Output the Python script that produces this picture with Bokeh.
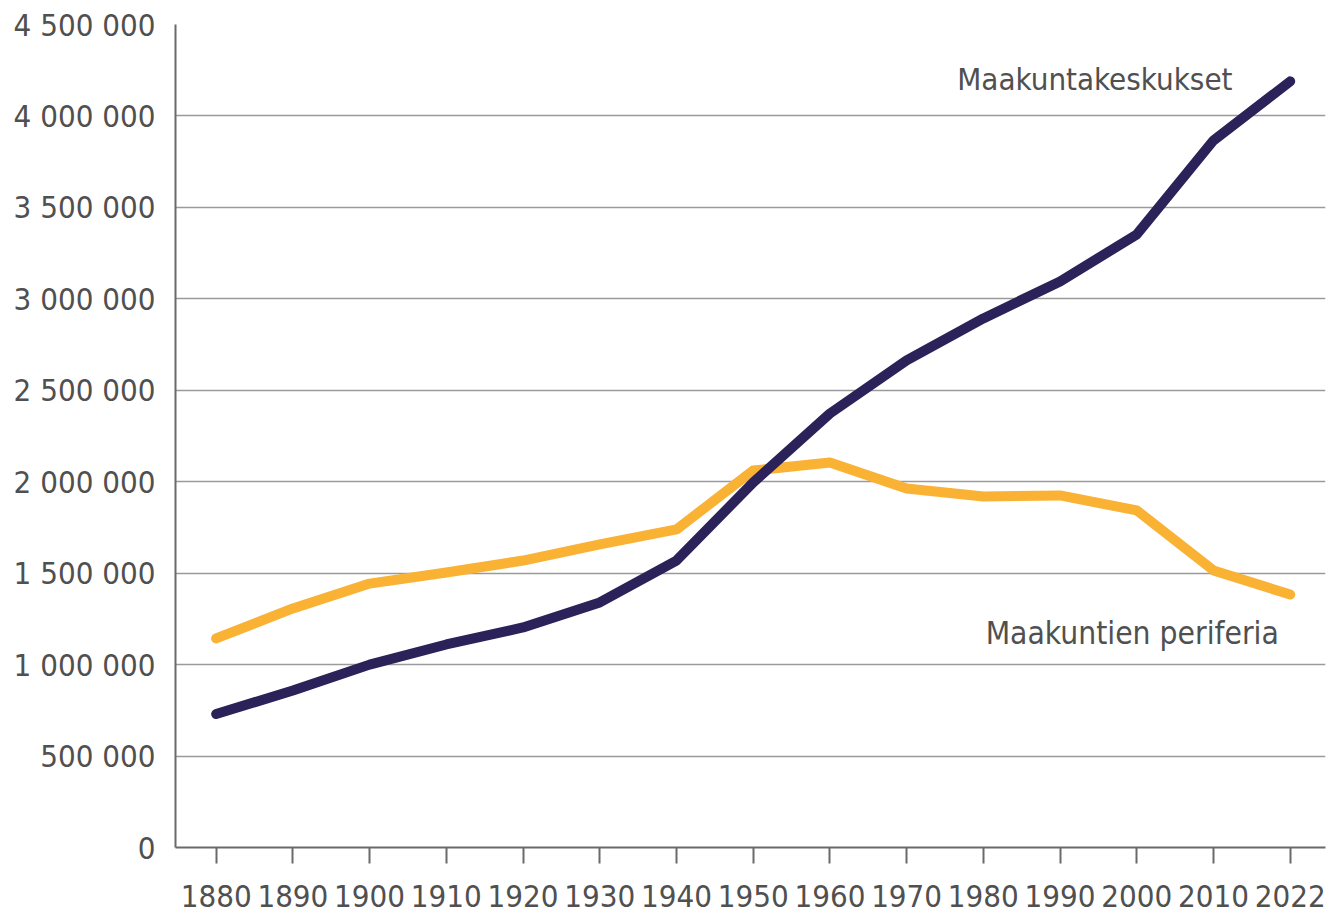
from bokeh.plotting import figure
from bokeh.models import FixedTicker, Label, Range1d
from bokeh.embed import file_html
from bokeh.resources import INLINE

years = ["1880", "1890", "1900", "1910", "1920", "1930", "1940", "1950",
         "1960", "1970", "1980", "1990", "2000", "2010", "2022"]
keskukset = [730000, 858000, 1000000, 1110000, 1203000, 1340000, 1569000, 1996000,
             2373000, 2663000, 2893000, 3095000, 3352000, 3866000, 4189000]
periferia = [1143000, 1307000, 1443000, 1504000, 1569000, 1657000, 1739000, 2061000,
             2105000, 1963000, 1919000, 1925000, 1843000, 1515000, 1383000]
y_ticks = [0, 500000, 1000000, 1500000, 2000000, 2500000, 3000000, 3500000, 4000000, 4500000]
y_tick_labels = ["0", "500 000", "1 000 000", "1 500 000", "2 000 000", "2 500 000",
                 "3 000 000", "3 500 000", "4 000 000", "4 500 000"]

FONT = "DejaVu Sans Condensed, Open Sans"
TEXT_COLOR = "#505050"
NAVY = "#2a2258"
ORANGE = "#f9b233"

xs = list(range(len(years)))

p = figure(width=1333, height=915, output_backend="svg", toolbar_location=None,
           x_range=Range1d(-0.53, 14.46), y_range=Range1d(0, 4500000),
           min_border_left=175, min_border_right=8, min_border_top=24, min_border_bottom=68)
p.outline_line_color = None
p.background_fill_color = "white"

p.xgrid.grid_line_color = None
p.ygrid.grid_line_color = "#9a9a9a"
p.ygrid.grid_line_width = 1.5
p.ygrid.ticker = FixedTicker(ticks=y_ticks)

p.yaxis.ticker = FixedTicker(ticks=y_ticks)
p.yaxis.major_label_overrides = {t: l for t, l in zip(y_ticks, y_tick_labels)}
p.yaxis.major_tick_line_color = None
p.yaxis.minor_tick_line_color = None
p.yaxis.major_label_standoff = 14

p.xaxis.ticker = FixedTicker(ticks=xs)
p.xaxis.major_label_overrides = {i: y for i, y in zip(xs, years)}
p.xaxis.major_tick_in = 0
p.xaxis.major_tick_out = 16
p.xaxis.minor_tick_line_color = None
p.xaxis.major_label_standoff = 21
p.xaxis.major_tick_line_color = "#6a6a6a"
p.xaxis.major_tick_line_width = 2

for ax in (p.xaxis, p.yaxis):
    ax.axis_line_color = "#6a6a6a"
    ax.axis_line_width = 2
    ax.major_label_text_font = FONT
    ax.major_label_text_font_size = "31px"
    ax.major_label_text_color = TEXT_COLOR

p.line(xs, periferia, line_color=ORANGE, line_width=10, line_cap="round", line_join="round")
p.line(xs, keskukset, line_color=NAVY, line_width=10, line_cap="round", line_join="round")

p.add_layout(Label(x=9.66, y=4200000, text="Maakuntakeskukset", text_font=FONT,
                   text_font_size="31px", text_color=TEXT_COLOR, text_baseline="alphabetic"))
p.add_layout(Label(x=10.03, y=1172000, text="Maakuntien periferia", text_font=FONT,
                   text_font_size="31.5px", text_color=TEXT_COLOR, text_baseline="alphabetic"))

open("out.html", "w").write(file_html(p, INLINE))
